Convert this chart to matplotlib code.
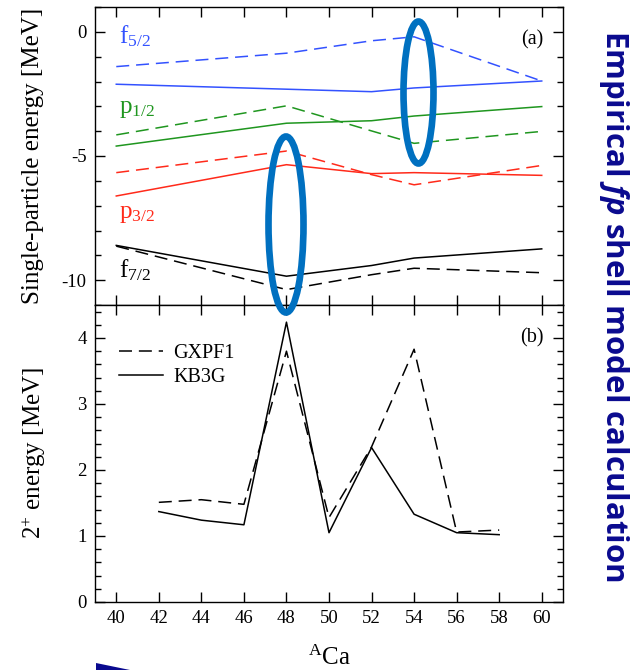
"""Ca isotopes: single-particle energies and 2+ energies (GXPF1 vs KB3G)."""

import matplotlib

matplotlib.use("Agg")
import matplotlib.pyplot as plt
from matplotlib.patches import Ellipse, Polygon
from matplotlib.ticker import MultipleLocator

plt.rcParams["font.family"] = ["Liberation Serif", "DejaVu Serif"]
plt.rcParams["mathtext.fontset"] = "custom"
plt.rcParams["mathtext.rm"] = "Liberation Serif"
plt.rcParams["mathtext.it"] = "Liberation Serif:italic"
plt.rcParams["mathtext.bfit"] = "Open Sans:italic:bold"
plt.rcParams["axes.unicode_minus"] = False

# ------------------------------------------------------------
# data
# ------------------------------------------------------------
mass_sp = [40, 48, 52, 54, 60]
f52_gxpf1 = [-1.40, -0.86, -0.36, -0.20, -1.98]
f52_kb3g = [-2.11, -2.31, -2.41, -2.26, -1.98]
p12_gxpf1 = [-4.15, -2.98, -3.99, -4.49, -4.01]
p12_kb3g = [-4.60, -3.68, -3.58, -3.39, -3.01]
p32_gxpf1 = [-5.67, -4.80, -5.75, -6.16, -5.38]
p32_kb3g = [-6.61, -5.35, -5.71, -5.67, -5.78]
f72_gxpf1 = [-8.63, -10.38, -9.78, -9.52, -9.70]
f72_kb3g = [-8.60, -9.84, -9.41, -9.11, -8.74]

orbit_labels = [r"f$_{5/2}$", r"p$_{1/2}$", r"p$_{3/2}$", r"f$_{7/2}$"]
orbit_label_y = [-0.45, -3.25, -7.5, -9.9]

mass_2p = [42, 44, 46, 48, 50, 52, 54, 56, 58]
e2_gxpf1 = [1.51, 1.55, 1.48, 3.80, 1.28, 2.35, 3.83, 1.06, 1.09]
e2_kb3g = [1.37, 1.24, 1.17, 4.24, 1.05, 2.34, 1.33, 1.05, 1.02]

BLUE = "#3352ff"
GREEN = "#1f961f"
RED = "#ff2a1a"
ORBIT_COLORS = [BLUE, GREEN, RED, "black"]
MARK = "#0070c0"
NAVY = "#0a0a8f"
W, H = 635, 670
DASH = (8.5, 4.5)

fig = plt.figure(figsize=(W / 100, H / 100), dpi=100)
ax1 = fig.add_axes([95 / W, 1 - 305 / H, 468 / W, 298 / H])
ax2 = fig.add_axes([95 / W, 1 - 602 / H, 468 / W, 297 / H])

# ------------------------------------------------------------
# (a) single-particle energies
# ------------------------------------------------------------
series = [
    (f52_gxpf1, f52_kb3g),
    (p12_gxpf1, p12_kb3g),
    (p32_gxpf1, p32_kb3g),
    (f72_gxpf1, f72_kb3g),
]
for (gx, kb), col in zip(series, ORBIT_COLORS):
    ax1.plot(mass_sp, gx, color=col, lw=1.1, dashes=DASH)
    ax1.plot(mass_sp, kb, color=col, lw=1.1)

for lab, y, col in zip(orbit_labels, orbit_label_y, ORBIT_COLORS):
    ax1.text(40.15, y, lab, color=col, fontsize=18, ha="left", va="baseline")

ax1.text(0.934, 0.89, "(a)", transform=ax1.transAxes, fontsize=14.5,
         ha="center", va="center")
ax1.set_xlim(39, 61)
ax1.set_ylim(-11, 1)
ax1.yaxis.set_major_locator(MultipleLocator(5))
ax1.yaxis.set_minor_locator(MultipleLocator(1))
ax1.set_ylabel("Single-particle energy [MeV]", fontsize=18)
ax1.yaxis.set_label_coords(-0.11, 0.5)
ax1.tick_params(labelbottom=False)

# ------------------------------------------------------------
# (b) 2+ energies
# ------------------------------------------------------------
ax2.plot(mass_2p, e2_gxpf1, color="black", lw=1.1, dashes=DASH, label="GXPF1")
ax2.plot(mass_2p, e2_kb3g, color="black", lw=1.1, label="KB3G")
ax2.legend(loc="upper left", bbox_to_anchor=(0.051, 0.87), frameon=False,
           fontsize=14.5, borderpad=0, borderaxespad=0, handlelength=2.2,
           handletextpad=0.5, labelspacing=0.25)
ax2.text(0.934, 0.89, "(b)", transform=ax2.transAxes, fontsize=14.5,
         ha="center", va="center")
ax2.set_xlim(39, 61)
ax2.set_ylim(0, 4.5)
ax2.yaxis.set_major_locator(MultipleLocator(1))
ax2.yaxis.set_minor_locator(MultipleLocator(0.2))
ax2.set_ylabel(r"2$^{+}$ energy [MeV]", fontsize=18)
ax2.yaxis.set_label_coords(-0.10, 0.5)
ax2.set_xlabel(r"$^{\mathrm{A}}$Ca", fontsize=18, labelpad=13)

for ax in (ax1, ax2):
    ax.xaxis.set_major_locator(MultipleLocator(2))
    ax.tick_params(which="both", direction="in", top=True, right=True,
                   width=1.0, labelsize=13.5, pad=6)
    ax.tick_params(which="major", length=7)
    ax.tick_params(which="minor", length=4)
    for sp in ax.spines.values():
        sp.set_linewidth(1.0)

# ------------------------------------------------------------
# overlay: highlight ellipses, side title, corner wedge
# ------------------------------------------------------------
for cx, cy, ew, eh in [(286, 224.5, 35, 176), (418.5, 92.5, 30, 142)]:
    fig.add_artist(Ellipse((cx / W, 1 - cy / H), ew / W, eh / H,
                           transform=fig.transFigure, fill=False,
                           edgecolor=MARK, lw=4.8))

fig.text(614 / W, 1 - 306 / H, r"Empirical $\mathbfit{fp}$ shell model calculation",
         rotation=-90, ha="center", va="center", color=NAVY, fontsize=22.5,
         fontweight="bold", family="Open Sans")

wedge = [(96, 663), (130, 670), (96, 670)]
fig.add_artist(Polygon([(x / W, 1 - y / H) for x, y in wedge], closed=True,
                       transform=fig.transFigure, color=NAVY, lw=0))

fig.savefig("out.png", dpi=100)
